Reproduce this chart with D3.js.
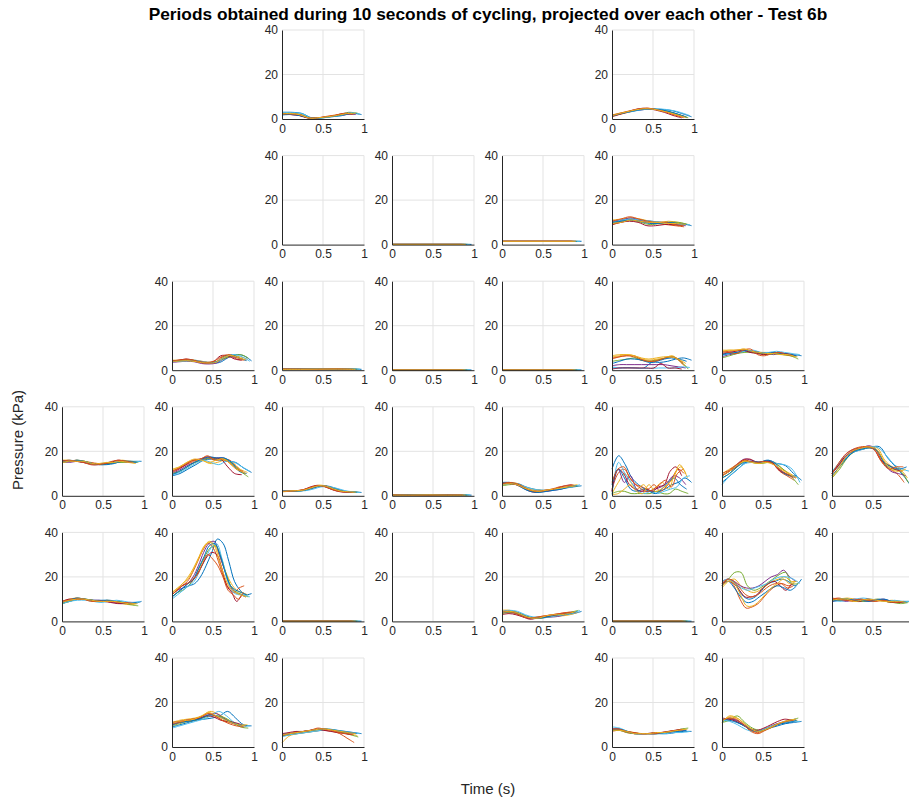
<!DOCTYPE html>
<html>
<head>
<meta charset="utf-8">
<script src="https://cdn.jsdelivr.net/npm/d3@7"></script>
<style>
  body { margin: 0; background: #fff; }
  svg { display: block; font-family: "Liberation Sans", Arial, sans-serif; }
</style>
</head>
<body>
<svg id="chart" width="909" height="799"></svg>
<script>
// Periods of pressure per sensor, each period normalised to its own length

const colors = ["#0072BD", "#D95319", "#EDB120", "#7E2F8E", "#77AC30", "#4DBEEE", "#A2142F"];
const periodLength = [0.97, 0.88, 0.92, 0.9, 0.93, 0.95, 0.85, 0.91, 0.87, 0.9];
const xTicks = [0, 0.5, 1];
const yTicks = [0, 20, 40];
const xTickLabels = ["0", "0.5", "1"];
const yTickLabels = ["0", "20", "40"];

const s0_2 = [
  [3, 3, 2.5, 0.5, 0.5, 1, 1.5, 2.5, 2],
  [2, 2.5, 2, 0.5, 0.5, 1, 1.5, 2, 2.5],
  [2.5, 2.5, 1.5, 0.3, 0.5, 1, 2, 2.5, 2.5],
  [2, 2, 1.5, 0.5, 0.5, 1, 1.5, 2, 2],
  [2.5, 2.5, 2, 0.5, 0.5, 1, 1.8, 3, 2.5],
  [3, 2.8, 2.5, 0.5, 0.4, 1, 1.5, 2.8, 2.2],
  [2, 2, 1.5, 0.4, 0.5, 1, 1.5, 2.5, 2.5],
  [1.8, 2, 1.5, 0.4, 0.5, 1, 1.5, 2.2, 2.5],
  [2.5, 2.2, 2, 0.5, 0.5, 1.2, 1.8, 2.5, 2],
  [2.2, 2.5, 1.8, 0.4, 0.6, 1, 1.6, 2.4, 2.5]
];
const s0_5 = [
  [1.5, 2.5, 3.5, 4.2, 4.5, 4.3, 3.8, 2.5, 1],
  [1, 2.2, 3.2, 4.3, 4.8, 4.2, 3.2, 2, 0.8],
  [1.8, 2.8, 3.6, 4.5, 4.6, 4, 3, 1.8, 0.5],
  [1.2, 2.4, 3.4, 4, 4.4, 4.2, 3.4, 2.2, 1],
  [1.5, 2.5, 3.5, 4.4, 4.7, 4.1, 3.3, 2, 0.6],
  [1.6, 2.6, 3.3, 4.1, 4.5, 4.5, 4, 3, 1.5],
  [1.4, 2.3, 3.5, 4.6, 4.8, 4, 3, 1.6, 0.5],
  [1.3, 2.5, 3.4, 4.2, 4.5, 4.2, 3.5, 2.3, 0.8],
  [1.7, 2.7, 3.7, 4.5, 4.9, 4.2, 3.2, 1.8, 0.6],
  [1.5, 2.6, 3.6, 4.4, 4.6, 4, 3.1, 1.9, 0.7]
];
const s1_2 = [];
const s1_3 = [
  [0.1, 0.1], [0.1, 0.1], [0.1, 0.1], [0.1, 0.1], [0.1, 0.1],
  [0.1, 0.1], [0.1, 0.1], [0.1, 0.1], [0.1, 0.1], [0.1, 0.1]
];
const s1_4 = [
  [1.5, 1.5], [1.4, 1.4], [1.5, 1.5], [1.5, 1.5], [1.4, 1.4],
  [1.5, 1.5], [1.5, 1.5], [1.4, 1.4], [1.5, 1.5], [1.5, 1.5]
];
const s1_5 = [
  [10, 11, 11.5, 11, 10.5, 10, 10, 9.5, 8.5],
  [9, 10, 11, 10.5, 10, 9.5, 9, 8.5, 8],
  [11, 11.5, 12, 11.5, 10.5, 10, 10.5, 10, 9],
  [10.5, 11, 12, 11, 10, 9.5, 10, 9, 8.5],
  [9.5, 10.5, 11, 10, 9, 9.5, 10, 10, 9],
  [10, 11, 11.5, 11, 10.5, 10, 9.5, 9, 9],
  [9, 10, 10.5, 10, 8.5, 8.5, 9, 9, 8.5],
  [10, 10.5, 11, 10.5, 9.5, 9.5, 10, 9.5, 9],
  [10.5, 11.5, 12.5, 11.5, 10.5, 10, 10, 9, 8.5],
  [9.5, 10, 11, 10.5, 10, 10, 9.5, 9.5, 9]
];
const s2_1 = [
  [4.2, 4.3, 4.5, 4.2, 3.8, 3.2, 3.5, 5.5, 7, 6.5, 4.2],
  [4, 4.5, 5, 4.5, 3.5, 3, 3.5, 6, 6.5, 5, 4.5],
  [4.5, 4.5, 4.8, 4.5, 4, 3.5, 4, 5.5, 6.5, 6, 5],
  [3.5, 3.8, 4, 3.8, 3, 2.8, 3.2, 5, 6, 5.5, 4.5],
  [4, 4.2, 4.3, 4, 3.5, 3.5, 4, 5.5, 6.5, 7, 5.5],
  [3.8, 4, 4.2, 4.5, 3.8, 3.5, 4, 6.5, 7, 6, 4],
  [4.2, 4.5, 5, 4.5, 3.5, 3.2, 4, 6.5, 6.5, 5, 4.5],
  [4, 4.2, 4.5, 4.3, 3.6, 3.3, 3.8, 6, 6.8, 5.5, 4.3],
  [4.3, 4.5, 4.8, 4.5, 3.8, 3.5, 4.2, 6.2, 7, 5.8, 4.8],
  [3.9, 4.1, 4.3, 4, 3.4, 3.2, 3.6, 5.8, 6.7, 5.6, 4.6]
];
const s2_2 = [
  [0.5, 0.5, 0.4, 0.6, 0.4], [0.4, 0.5, 0.5, 0.5, 0.3], [0.5, 0.4, 0.5, 0.6, 0.4],
  [0.4, 0.4, 0.5, 0.5, 0.3], [0.5, 0.5, 0.4, 0.5, 0.4], [0.4, 0.5, 0.5, 0.6, 0.5],
  [0.5, 0.4, 0.4, 0.5, 0.3], [0.4, 0.5, 0.5, 0.5, 0.4], [0.5, 0.5, 0.4, 0.6, 0.4],
  [0.4, 0.4, 0.5, 0.5, 0.4]
];
const s2_3 = s1_3;
const s2_4 = s1_3;
const s2_5 = [
  [1, 1, 1.2, 1, 1, 3.5, 3.5, 4, 5, 5.5, 4.5],
  [5, 6, 6.5, 6, 4.5, 4, 4.5, 5, 6, 5, 2],
  [6, 6.5, 7, 6.5, 5, 4.5, 5, 5.5, 6.5, 4, 1],
  [2, 2.5, 2.5, 2.5, 2.5, 2.5, 2.5, 2.5, 2, 1.5, 1],
  [4, 4.5, 5, 5.5, 4.5, 4, 4.5, 5.5, 6, 4, 0.5],
  [1.5, 1, 1, 1, 0.8, 0.8, 1, 1, 1, 1.5, 1.2],
  [0.5, 1, 1, 1, 1, 1, 1, 3, 1, 1, 0.5],
  [3, 4, 5, 5, 4.5, 3.5, 4, 5, 5.5, 5, 4],
  [5.5, 6, 6.5, 6.5, 5, 4, 4, 5, 6, 5.5, 3],
  [6.5, 7, 7, 6.5, 5.5, 5, 5.5, 6, 6, 5, 3]
];
const s2_6 = [
  [7, 8, 8, 8.5, 8, 7.5, 7.5, 7.5, 7.5, 7, 6.5],
  [8, 8.5, 9, 9, 8, 8, 7.5, 8, 7.5, 7, 6],
  [9, 9, 9, 9.5, 8.5, 8, 8, 7.5, 7, 6.5, 6],
  [6, 7, 7.5, 8.5, 8.5, 8, 7.5, 7, 7.5, 7, 6.5],
  [5.5, 6.5, 7.5, 8, 8, 7.5, 7, 7.5, 7, 6.5, 5],
  [6.5, 7.5, 8, 8.5, 9, 8, 8, 8.5, 8, 7.5, 7],
  [7.5, 8, 8.5, 9, 8, 7.5, 7, 7.5, 8, 7.5, 7],
  [7, 7.5, 8, 9, 8.5, 8, 7.5, 8, 7.5, 7, 6.5],
  [8.5, 8, 7.5, 9, 9.5, 7, 6.5, 7.5, 8, 7, 6.5],
  [8.5, 9, 9, 9.5, 8.5, 8, 7.5, 7.5, 7, 7, 6]
];
const s3_0 = [
  [15.5, 15.5, 15.5, 15, 14.5, 14, 14.5, 15, 15.5, 15.5, 15.5],
  [15, 15.5, 16, 15.5, 15, 14.5, 14.5, 15, 15.5, 15, 15],
  [16, 16, 15.5, 15.5, 14.5, 14, 14.5, 15.5, 16, 15.5, 15],
  [15.5, 15, 15.5, 15, 14, 14, 14.5, 15, 15.5, 15, 15],
  [15, 15.5, 16, 15.5, 14.5, 14, 14.5, 15, 15, 15.5, 15],
  [15.5, 16, 15.5, 15, 14.5, 14.5, 15, 15.5, 15.5, 15, 15.5],
  [16, 15.5, 15.5, 15, 14.5, 14.5, 14.5, 15, 16, 15.5, 15],
  [15.5, 15.5, 16, 15.5, 14.5, 14, 14, 14.5, 15.5, 15.5, 15],
  [15.5, 16, 15.5, 15, 14, 14, 14.5, 15.5, 16, 15.5, 15],
  [15, 15.5, 15.5, 15.5, 14.5, 14.5, 15, 15, 15.5, 15, 14.5]
];
const s3_1 = [
  [9, 10, 12, 14, 16, 16.5, 16, 15.5, 15, 12.5, 10.5],
  [11, 12.5, 14, 15.5, 16.5, 17, 16, 16.5, 16, 13, 10],
  [11.5, 13, 15, 16, 16, 14.5, 15, 16, 15, 12, 10.5],
  [10, 11.5, 13.5, 15, 16, 17, 17, 17, 15, 11.5, 10],
  [10, 11, 13, 15, 16, 17, 16.5, 16.5, 14, 11, 8.5],
  [9.5, 10.5, 12.5, 14.5, 16, 15, 14, 15.5, 15, 13, 11],
  [10.5, 12, 14, 16, 16.5, 17.5, 17, 16.5, 13, 10, 9.5],
  [9.5, 11, 13, 15, 16.5, 17.5, 17, 17, 15, 11, 10],
  [11, 12.5, 14.5, 16, 16.5, 18, 16, 16.5, 15, 12, 11],
  [12, 13, 15, 16.5, 16, 15, 16, 16.5, 14, 11.5, 10]
];
const s3_2 = [
  [2, 2.1, 2.2, 2.5, 3.5, 4.5, 4.2, 3, 2, 1.8, 1.5],
  [2, 2, 2.2, 2.6, 3.8, 4.6, 4, 2.8, 2, 1.7, 1.6],
  [1.8, 2, 2.3, 2.8, 4, 4.8, 4.2, 3, 2.1, 1.8, 1.5],
  [2.1, 2.2, 2.2, 2.4, 3.3, 4.3, 4.4, 3.2, 2.1, 1.7, 1.5],
  [1.9, 2, 2.1, 2.5, 3.6, 4.5, 4.1, 2.9, 2, 1.8, 1.6],
  [2, 2.1, 2.2, 2.3, 3, 4, 4, 3.4, 2.4, 1.8, 1.5],
  [2, 2.1, 2.3, 2.7, 3.9, 4.7, 4.3, 3, 2, 1.6, 1.5],
  [2.2, 2.1, 2.2, 2.5, 3.5, 4.4, 4.2, 3.1, 2.1, 1.7, 1.6],
  [1.9, 2, 2.3, 2.7, 3.8, 4.6, 4.1, 2.9, 2, 1.7, 1.5],
  [2, 2.2, 2.3, 2.6, 3.6, 4.5, 4.3, 3.1, 2.1, 1.8, 1.6]
];
const s3_3 = [
  [0.4, 0.4, 0.3, 0.4, 0.3], [0.3, 0.4, 0.4, 0.3, 0.3], [0.4, 0.3, 0.3, 0.4, 0.4],
  [0.3, 0.3, 0.4, 0.3, 0.3], [0.4, 0.4, 0.3, 0.3, 0.4], [0.3, 0.4, 0.3, 0.4, 0.5],
  [0.4, 0.3, 0.3, 0.4, 0.3], [0.3, 0.4, 0.4, 0.3, 0.3], [0.4, 0.3, 0.3, 0.3, 0.4],
  [0.3, 0.3, 0.4, 0.3, 0.3]
];
const s3_4 = [
  [5, 5.5, 5.5, 4, 3, 2.5, 2.5, 3, 3.5, 4, 4.5],
  [6, 5.5, 5, 3.5, 2.5, 2, 2.5, 3, 3.5, 4, 4.5],
  [5, 6, 5.5, 4, 3, 2.5, 2.5, 3, 3.5, 4.5, 5],
  [5.5, 6, 5, 3.5, 2.5, 2, 2, 2.5, 3, 4, 4.5],
  [4.5, 5, 5, 3.5, 2, 2, 2.5, 3, 3.5, 4, 4.5],
  [5, 5.5, 5, 4, 3, 2.5, 2.5, 3, 3.5, 4, 5],
  [5.5, 5.5, 5, 3.5, 2, 1.5, 2, 2.5, 3.5, 4.5, 5],
  [6, 6, 5, 3, 1.8, 1.5, 2, 2.5, 3, 4, 4.5],
  [5.5, 6, 5.5, 4, 2.5, 2, 2.5, 3, 4, 4.5, 5],
  [5, 5.5, 5, 3.5, 2.5, 2, 2.5, 3, 3.5, 4, 4.5]
];
const s3_5 = [
  [12, 18, 14, 8, 5, 3, 2, 2, 3, 5, 6, 8, 6],
  [3, 10, 12, 8, 5, 4, 3, 5, 2, 4, 8, 12, 10],
  [1, 6, 10, 6, 3, 5, 2, 4, 6, 3, 10, 13, 8],
  [2, 12, 6, 9, 3, 2, 2, 3, 4, 6, 9, 8, 5],
  [1, 2, 2, 1, 1, 1, 1, 2, 1, 1, 3, 2, 1],
  [0.5, 15, 10, 6, 2, 1, 2, 1, 2, 3, 4, 8, 9],
  [2, 12, 10, 5, 3, 2, 3, 2, 4, 5, 11, 13, 9],
  [5, 12, 8, 3, 2, 3, 2, 1, 3, 6, 8, 5, 3],
  [6, 12, 13, 8, 5, 3, 2, 3, 5, 7, 4, 10, 12],
  [0.5, 1, 3, 5, 2, 1, 5, 2, 3, 5, 8, 14, 10]
];
const s3_6 = [
  [6, 9, 12, 15, 15.5, 15, 15, 14.5, 13.5, 10, 7],
  [9, 11, 13, 15.5, 15, 15, 15.5, 15, 11, 9, 7],
  [10, 12, 14, 16, 15, 14.5, 15, 15, 12, 10, 8],
  [9, 11, 14, 16.5, 16, 15, 15.5, 14.5, 11, 9.5, 8],
  [8, 10, 13, 15.5, 15, 14.5, 15, 14.5, 12, 9, 5],
  [5, 9, 12, 14.5, 15, 15, 16, 14.5, 14, 12, 6],
  [9, 11, 13, 16, 16.5, 15, 15.5, 15.5, 12, 10, 9],
  [8, 10, 13, 15, 15.5, 15, 16, 15, 11, 9, 9],
  [10, 11.5, 14, 16, 15.5, 15, 15.5, 14.5, 12, 10, 8],
  [9, 11, 13.5, 15.5, 15, 14.5, 15, 14, 12, 10, 8]
];
const s3_7 = [
  [11, 14, 18, 20, 21, 22, 22, 17, 13, 9, 4],
  [10, 14, 18, 20.5, 21.5, 22, 21, 15, 12, 10, 6],
  [9, 13, 17, 20, 21, 22, 21.5, 16, 13, 12, 8],
  [10, 15, 19, 21, 21.5, 22.5, 21, 15, 11, 10, 9],
  [8, 12, 17, 20, 21, 21.5, 20, 14, 12, 11, 6],
  [11, 15, 18.5, 20, 21, 22, 21.5, 18, 14, 12, 11],
  [10, 14, 18, 20, 21.5, 22, 21, 16, 14, 12, 11],
  [9, 13, 17, 20, 21, 21.5, 20.5, 15, 13, 12, 13],
  [10, 15, 19, 21, 22, 22, 20.5, 15, 12, 13, 13],
  [8, 13, 18, 20.5, 21.5, 22, 21, 16, 12, 11, 12]
];
const s4_0 = [
  [8, 9, 10, 10, 9.5, 9.5, 9.5, 9, 8.5, 8, 9],
  [8.5, 9.5, 10.5, 10, 9.5, 9, 9, 9, 8.5, 8, 8],
  [9, 10, 10.5, 10, 9.5, 9, 9.5, 9, 8, 7.5, 8],
  [8.5, 9.5, 10, 10, 9.5, 9.5, 9, 8.5, 8, 8.5, 8.5],
  [8, 9, 10, 10, 9.5, 9, 9, 9, 8.5, 7.5, 7],
  [8, 9, 9.5, 9.5, 9, 8.5, 9, 9.5, 9, 8.5, 9],
  [9, 10, 10, 10, 9.5, 9, 9, 8.5, 8, 8, 8],
  [8.5, 9.5, 10.5, 10, 9.5, 9, 9.5, 9, 8.5, 8, 8.5],
  [9, 9.5, 10, 10, 9, 9, 9, 9, 8.5, 8.5, 8],
  [8.5, 9.5, 10, 10, 9.5, 9, 9, 9, 8.5, 8, 8]
];
const s4_1 = [
  [11, 13, 15, 16, 17, 20, 25, 31, 37, 35, 27, 18, 14, 12, 12.5],
  [12, 14, 16, 18, 22, 27, 32, 35, 33, 27, 20, 15, 13, 15, 16],
  [13, 15, 17, 20, 24, 29, 34, 36, 34, 28, 22, 17, 14, 13, 12],
  [12, 14, 15, 17, 20, 25, 31, 35, 36, 30, 23, 16, 13, 12, 11],
  [11, 13, 14, 16, 19, 24, 29, 33, 34, 29, 21, 15, 13, 12, 11],
  [10, 12, 14, 16, 18, 23, 28, 33, 35, 28, 18, 13, 12, 12, 11],
  [12, 14, 16, 17, 18, 21, 25, 29, 31, 30, 24, 16, 13, 9, 12],
  [11, 13, 15, 17, 19, 24, 29, 34, 35, 30, 22, 16, 14, 13, 12],
  [12, 14, 16, 17, 19, 21, 26, 30, 28, 25, 20, 14, 12, 10, 13],
  [13, 14.5, 17, 19, 23, 28, 33, 35.5, 34, 27, 20, 15, 13, 12, 11]
];
const s4_2 = s1_3;
const s4_3 = [];
const s4_4 = [
  [4, 4.5, 4, 2.5, 1.5, 1.5, 2, 2.5, 3, 3.5, 4.5],
  [3.5, 4.5, 3.5, 2, 1.5, 2, 2.5, 3, 3.5, 4, 4.5],
  [5, 5, 4, 2.5, 1.5, 1.5, 2, 2.5, 2.5, 3, 4],
  [4, 4, 3.5, 2, 1.2, 1.5, 2, 2, 2.5, 3.5, 4],
  [3.5, 4, 3.5, 2.5, 1.5, 1.5, 2, 2.5, 3, 4, 5],
  [4.5, 5, 4.5, 3, 2, 2, 2, 2.5, 3, 3.5, 5],
  [3, 3.5, 3, 2, 1, 1.5, 2, 2.5, 3, 3.5, 4],
  [4, 4.5, 4, 2.5, 1.5, 1.5, 2, 3, 3, 3.5, 4.5],
  [4.5, 4.5, 3.5, 2, 1.5, 2, 2.5, 3, 3.5, 4, 4],
  [4, 4.5, 4, 2.5, 1.5, 1.5, 2.5, 3, 3, 3.5, 4.5]
];
const s4_5 = s1_3;
const s4_6 = [
  [17, 19, 17, 12, 10, 11, 14, 17, 18, 19, 18, 16, 19],
  [16, 19, 16, 10, 6, 6.5, 8, 11, 14, 16, 17, 16, 17],
  [15, 18, 19, 16, 14, 13, 14, 16, 18, 19, 20, 18, 18],
  [18, 19, 18, 16, 15, 15, 16, 18, 20, 21, 23, 20, 18],
  [17, 19, 22, 22, 16, 14, 15, 17, 19, 21, 22, 17, 17],
  [18, 19, 17, 15, 14, 15, 16, 17, 19, 20, 20, 19, 17],
  [17, 18, 17, 14, 11, 11, 12, 15, 17, 18, 16, 14, 17],
  [16, 18, 15, 11, 8.5, 9, 11, 13, 15, 16, 15, 14, 16],
  [17, 19, 18, 15, 12, 11, 12, 14, 16, 17, 17, 15, 16],
  [16, 18, 17, 12, 7, 7, 9, 12, 15, 17, 19, 17, 18]
];
const s4_7 = [
  [9, 9.5, 10, 9.5, 9, 9.5, 10, 9.5, 9, 9, 9],
  [10, 10.5, 9.5, 9, 10, 9.5, 9, 9.5, 8.5, 9, 8.5],
  [9.5, 10, 10.5, 10, 9.5, 10, 9.5, 9, 9.5, 8.5, 9],
  [9, 9.5, 9, 10, 9.5, 9, 9.5, 10, 9, 8.5, 8.5],
  [10, 9.5, 10, 9, 9, 9.5, 10, 9, 8.5, 8, 8.5],
  [9.5, 9, 9.5, 10, 10.5, 10, 9.5, 9, 9.5, 9, 9],
  [10, 10, 9.5, 9.5, 9, 10, 9.5, 9.5, 9, 8.5, 8.5],
  [9, 10, 10, 9.5, 9.5, 9, 9.5, 10, 9, 9, 8.5],
  [10.5, 10, 9.5, 9.5, 10, 9.5, 9, 9.5, 9, 8.5, 9],
  [9.5, 10, 10, 9, 9.5, 10, 9.5, 9, 9, 9, 8.5]
];
const s5_1 = [
  [9, 10, 11, 12, 12.5, 13, 14, 16, 13, 10, 9.5],
  [10, 11, 12, 12, 13, 15, 14, 12, 11, 10, 9],
  [11, 12, 12.5, 13, 14, 16, 15, 13, 11, 10, 10],
  [10, 11, 11.5, 12, 13, 14.5, 15, 13, 11, 10, 9.5],
  [9.5, 10.5, 11.5, 12, 13, 14, 14, 13, 11, 9, 8.5],
  [8.5, 9.5, 10.5, 11.5, 12.5, 14, 16, 14, 11, 9.5, 9.5],
  [11, 11.5, 12, 12.5, 13, 14, 13.5, 12, 11.5, 11, 10],
  [10, 11, 11.5, 12, 13, 14.5, 14, 12.5, 11, 10, 9.5],
  [10.5, 11, 12, 12.5, 13.5, 15, 14, 12, 10.5, 9.5, 9],
  [11, 11.5, 12, 12.5, 14, 15.5, 14, 12.5, 11, 10, 9.5]
];
const s5_2 = [
  [5, 5.5, 6, 6.5, 7, 7.5, 8, 7.5, 7, 6.5, 6],
  [5.5, 6, 6.5, 7, 7.5, 8, 7.5, 7, 6, 4, 2],
  [2, 5, 6, 6.5, 7, 7.5, 8, 7, 6.5, 6, 5],
  [6, 6, 6.5, 7, 7.5, 8, 8, 7.5, 7, 6.5, 6],
  [5, 5.5, 6.5, 7, 7.5, 8, 8, 7.5, 6.5, 5.5, 4.5],
  [4.5, 5.5, 6, 6.5, 7, 7.5, 8, 7.5, 7, 6.5, 6],
  [6, 6.5, 7, 7, 7.5, 8, 7.5, 7, 6.5, 6, 5.5],
  [5.5, 6, 6.5, 7, 7.5, 8, 8, 7.5, 7, 6.5, 6],
  [5, 6, 6.5, 7, 7.5, 8.5, 8, 7.5, 6.5, 6, 5.5],
  [5.5, 6, 6.5, 7, 7.5, 8, 8, 7.5, 7, 6.5, 6]
];
const s5_5 = [
  [8, 8, 7, 6, 6, 6, 6, 6, 6.5, 7, 7],
  [7, 7.5, 6.5, 6, 6, 6, 6, 6.5, 7, 7.5, 7.5],
  [7.5, 8, 7, 6.5, 6, 6, 6.5, 6.5, 7, 7.5, 8],
  [8, 8, 7, 6, 6, 6, 6, 6.5, 6.5, 7.5, 7.5],
  [7.5, 7.5, 6.5, 6, 6, 6, 6, 6.5, 7, 8, 8.5],
  [9, 8.5, 7, 6, 6, 6, 6, 6, 6.5, 6.5, 7],
  [8, 8, 7, 6.5, 6, 6, 6.5, 6.5, 7, 7.5, 8],
  [7.5, 8, 7, 6, 6, 6, 6, 6.5, 7, 7, 7.5],
  [8, 8, 7, 6.5, 6, 6, 6, 6.5, 7, 7.5, 8],
  [7.5, 7.5, 7, 6, 6, 6, 6.5, 6.5, 7, 7.5, 8]
];
const s5_6 = [
  [11, 13, 11, 9, 7, 7.5, 8.5, 9.5, 10.5, 11, 11.5],
  [12, 13, 12, 10, 7, 6, 7.5, 9, 10.5, 11.5, 12],
  [11, 14, 13, 10.5, 8, 7, 8, 9.5, 11, 11.5, 12],
  [12, 12.5, 12, 10, 8, 7.5, 8.5, 10, 11, 12, 12.5],
  [11, 12, 14, 11, 8.5, 7.5, 8.5, 10, 11, 12, 13],
  [12, 11.5, 10, 8, 7, 7.5, 9, 10, 11, 11.5, 11.5],
  [13, 12.5, 11.5, 10, 8, 7.5, 8.5, 10, 11.5, 12.5, 12],
  [12.5, 12, 11, 9.5, 7.5, 7, 8, 9.5, 10.5, 11, 12],
  [12, 13, 12.5, 10, 7.5, 6.5, 7.5, 9, 10.5, 11.5, 12],
  [11.5, 13.5, 13, 10.5, 8, 7, 8, 9.5, 11, 12, 12.5]
];

// grid position of each sensor: [row, col, periods]
const sensors = [
  [0, 2, s0_2], [0, 5, s0_5],
  [1, 2, s1_2], [1, 3, s1_3], [1, 4, s1_4], [1, 5, s1_5],
  [2, 1, s2_1], [2, 2, s2_2], [2, 3, s2_3], [2, 4, s2_4], [2, 5, s2_5], [2, 6, s2_6],
  [3, 0, s3_0], [3, 1, s3_1], [3, 2, s3_2], [3, 3, s3_3], [3, 4, s3_4], [3, 5, s3_5], [3, 6, s3_6], [3, 7, s3_7],
  [4, 0, s4_0], [4, 1, s4_1], [4, 2, s4_2], [4, 3, s4_3], [4, 4, s4_4], [4, 5, s4_5], [4, 6, s4_6], [4, 7, s4_7],
  [5, 1, s5_1], [5, 2, s5_2], [5, 5, s5_5], [5, 6, s5_6]
];

const svg = d3.select("#chart");
const width = +svg.attr("width");
const axisColor = "#262626";
const gridColor = "#e3e3e3";

const cellW = 82;
const cellH = 89;
const colStep = 110;
const rowStep = 125.6;
const left0 = 62;
const top0 = 30;

const x = d3.scaleLinear().domain([0, 1]).range([0, cellW]);
const y = d3.scaleLinear().domain([0, 40]).range([cellH, 0]);

const line = d3.line().curve(d3.curveCatmullRom.alpha(0.5));

// Title
svg
  .append("text")
  .attr("x", 488)
  .attr("y", 20)
  .attr("text-anchor", "middle")
  .attr("font-size", 17.3)
  .attr("font-weight", "bold")
  .attr("fill", "#000")
  .text("Periods obtained during 10 seconds of cycling, projected over each other - Test 6b");

// Shared axis labels
svg
  .append("text")
  .attr("transform", "translate(23,440) rotate(-90)")
  .attr("text-anchor", "middle")
  .attr("font-size", 15)
  .attr("fill", axisColor)
  .text("Pressure (kPa)");

svg
  .append("text")
  .attr("x", 488)
  .attr("y", 794)
  .attr("text-anchor", "middle")
  .attr("font-size", 15)
  .attr("fill", axisColor)
  .text("Time (s)");

sensors.forEach(([row, col, periods]) => {
  const left = left0 + col * colStep;
  const g = svg
    .append("g")
    .attr("transform", `translate(${left},${top0 + row * rowStep})`);

  // Grid
  g.selectAll(".gy")
    .data(yTicks.filter((t) => t > 0))
    .join("line")
    .attr("x1", 0)
    .attr("x2", cellW)
    .attr("y1", (d) => y(d))
    .attr("y2", (d) => y(d))
    .attr("stroke", gridColor)
    .attr("stroke-width", 1);

  g.selectAll(".gx")
    .data(xTicks.filter((t) => t > 0))
    .join("line")
    .attr("x1", (d) => x(d))
    .attr("x2", (d) => x(d))
    .attr("y1", 0)
    .attr("y2", cellH)
    .attr("stroke", gridColor)
    .attr("stroke-width", 1);

  // Period lines
  g.selectAll(".period")
    .data(periods)
    .join("path")
    .attr("fill", "none")
    .attr("stroke", (d, i) => colors[i % colors.length])
    .attr("stroke-width", 1)
    .attr("d", (d, i) => {
      const len = periodLength[i];
      return line(d.map((v, j) => [x((j / (d.length - 1)) * len), y(v)]));
    });

  // Axes (x tick labels past the window edge are not shown, as in the figure)
  const shownX = xTicks.filter((t) => left + x(t) + 4 < width);
  const yAxis = d3
    .axisLeft(y)
    .tickValues(yTicks)
    .tickFormat((d, i) => yTickLabels[i])
    .tickSize(0)
    .tickPadding(4);
  const xAxis = d3
    .axisBottom(x)
    .tickValues(shownX)
    .tickFormat((d) => xTickLabels[xTicks.indexOf(d)])
    .tickSize(0)
    .tickPadding(5);

  const ya = g.append("g").call(yAxis);
  const xa = g.append("g").attr("transform", `translate(0,${cellH})`).call(xAxis);

  [ya, xa].forEach((a) => {
    a.select(".domain").attr("stroke", axisColor).attr("stroke-width", 1);
    a.selectAll("text")
      .attr("fill", axisColor)
      .attr("font-size", 12)
      .attr("font-family", '"Liberation Sans", Arial, sans-serif');
  });
});
</script>
</body>
</html>
